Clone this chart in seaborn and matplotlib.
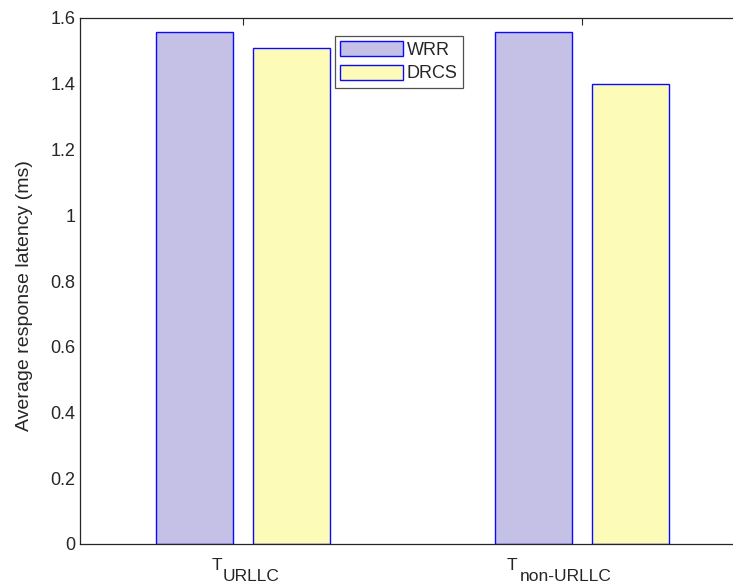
import matplotlib
matplotlib.use("Agg")
import matplotlib.pyplot as plt
import matplotlib.transforms as mtransforms
import seaborn as sns
import pandas as pd

categories = ["URLLC", "non-URLLC"]
label_main = "T"
series_names = ["WRR", "DRCS"]
wrr_values = [1.557, 1.557]
drcs_values = [1.508, 1.400]
yticks = [0, 0.2, 0.4, 0.6, 0.8, 1.0, 1.2, 1.4, 1.6]
ytick_labels = ["0", "0.2", "0.4", "0.6", "0.8", "1", "1.2", "1.4", "1.6"]

df = pd.DataFrame({
    "cat": categories * 2,
    "series": [series_names[0]] * 2 + [series_names[1]] * 2,
    "value": wrr_values + drcs_values,
})

sns.set_style("white")
plt.rcParams["font.family"] = ["Liberation Sans", "DejaVu Sans"]

W, H = 733, 585
fig = plt.figure(figsize=(W / 100, H / 100), dpi=100)
x0, x1 = 80.4, 760
y0, y1 = 18, 544
ax = fig.add_axes([x0 / W, 1 - y1 / H, (x1 - x0) / W, (y1 - y0) / H])

palette = {"WRR": "#C5C0E6", "DRCS": "#FCFBB7"}
sns.barplot(data=df, x="cat", y="value", hue="series", palette=palette,
            width=0.572, gap=0.2, edgecolor="#0A0AFF", linewidth=1.0,
            saturation=1, ax=ax, legend=True)

ax.set_xlim(-0.48, (x1 - 243) / 339)
ax.set_ylim(0, 1.6)
ax.set_yticks(yticks)
ax.set_yticklabels(ytick_labels)
ax.set_xticks(range(len(categories)))
ax.set_xticklabels([""] * len(categories))
ax.set_xlabel("")
ax.set_ylabel("Average response latency (ms)", fontsize=14, color="#262626")
ax.yaxis.set_label_coords(-0.070, 0.473)
ax.tick_params(axis="both", direction="in", length=5, width=0.8,
               colors="#262626", labelsize=13, top=True, right=True)
for name, s in ax.spines.items():
    s.set_color("#262626")
    s.set_linewidth(0.9)
    s.set_visible(True)

# x tick labels: "T" with a same-size lowered subscript (MATLAB tex style)
t_dx = [-31, -75]
sub_dx = [-20, -62]
base = ax.get_xaxis_transform()
for i, cat in enumerate(categories):
    tr_t = mtransforms.offset_copy(base, fig=fig, x=t_dx[i], y=-14, units="dots")
    ax.text(i, 0, label_main, transform=tr_t, ha="left", va="top",
            fontsize=12.5, color="#262626")
    tr_s = mtransforms.offset_copy(base, fig=fig, x=sub_dx[i], y=-25, units="dots")
    ax.text(i, 0, cat, transform=tr_s, ha="left", va="top",
            fontsize=12.5, color="#262626")

handles, labels = ax.get_legend_handles_labels()
ax.get_legend().remove()
leg = fig.legend(handles, labels, loc="upper left",
                 bbox_to_anchor=(335 / W, 1 - 36 / H),
                 frameon=True, fancybox=False, fontsize=13,
                 handlelength=3.45, handleheight=0.9, handletextpad=0.22,
                 borderpad=0.3, labelspacing=0.3, borderaxespad=0)
leg.get_frame().set_edgecolor("#262626")
leg.get_frame().set_linewidth(0.9)
for t in leg.get_texts():
    t.set_color("#262626")

fig.savefig("out.png", dpi=100)
